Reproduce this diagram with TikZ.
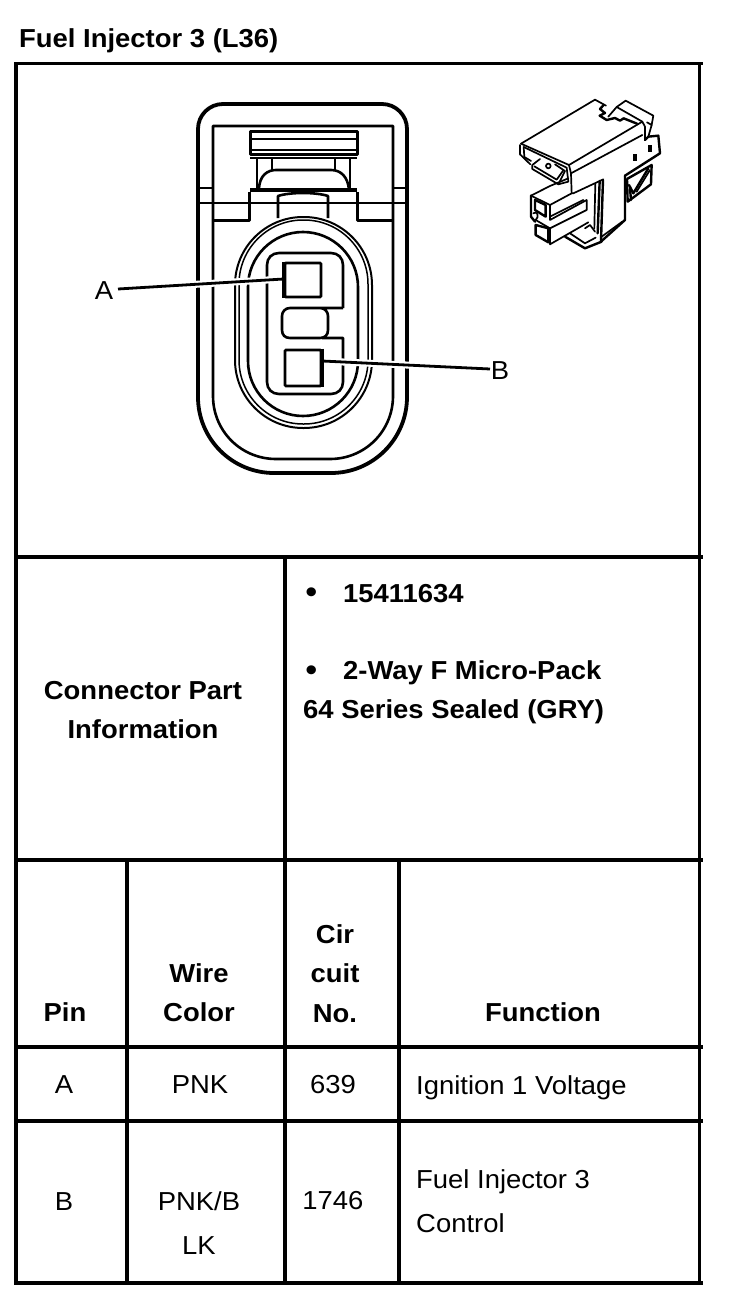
\documentclass[tikz,border=0pt]{standalone}
\usepackage{fontspec}
\setmainfont[FakeStretch=1.055]{Liberation Sans}
\usetikzlibrary{calc}
\newcommand{\bt}{\fontsize{26}{39.5}\selectfont\bfseries}
\newcommand{\rt}{\fontsize{26}{44}\selectfont}
% left, right, top, bottom, top radius, bottom radius
\newcommand{\ushape}[6]{(#1,{#3+#5}) .. controls (#1,{#3+.448*#5}) and ({#1+.448*#5},#3) .. ({#1+#5},#3) -- ({#2-#5},#3) .. controls ({#2-.448*#5},#3) and (#2,{#3+.448*#5}) .. (#2,{#3+#5}) -- (#2,{#4-#6}) .. controls (#2,{#4-.448*#6}) and ({#2-.448*#6},#4) .. ({#2-#6},#4) -- ({#1+#6},#4) .. controls ({#1+.448*#6},#4) and (#1,{#4-.448*#6}) .. (#1,{#4-#6}) -- cycle}
\tikzset{
  rule/.style={line width=3.2pt,line cap=butt},
  thick rule/.style={line width=4pt},
  cout/.style={line width=3.8pt,line join=round},
  cmid/.style={line width=2.6pt,line join=round},
  skn/.style={line width=1.7pt,line join=round,line cap=round},
  skt/.style={line width=2.4pt,line join=round,line cap=round},
  bold label/.style={font=\bt,align=center,inner sep=0pt,anchor=center},
  plain label/.style={font=\rt,align=center,inner sep=0pt,anchor=center},
  leader/.style={line width=2.8pt,preaction={draw=white,line width=7pt}},
}
\begin{document}
\begin{tikzpicture}[x=1pt,y=-1pt]
\useasboundingbox (0,0) rectangle (736,1308);
% --- table rules
\draw[rule,line width=3pt] (14,64) -- (703,64);
\draw[rule,line width=3.4pt] (16,63) -- (16,1285);
\draw[rule,line width=3pt] (699.5,63) -- (699.5,1285);
\draw[rule] (14,557) -- (703,557);
\draw[rule] (14,860) -- (703,860);
\draw[thick rule] (14,1047) -- (703,1047);
\draw[rule] (14,1121) -- (703,1121);
\draw[thick rule] (14,1283) -- (703,1283);
\draw[rule] (285,557) -- (285,1285);
\draw[rule] (127,860) -- (127,1285);
\draw[rule] (399,860) -- (399,1285);
% --- title and cell text
\node[bold label,anchor=west] (title) at (19,40.5) {Fuel Injector 3 (L36)};
\node[bold label] (cpi) at (143,710) {Connector Part\\Information};
\node[bold label,anchor=west] (b1) at (305.5,595) {\fontsize{31}{31}\selectfont •};
\node[bold label,anchor=west] (p1) at (343,594) {15411634};
\node[bold label,anchor=west] (b2) at (305.5,673.5) {\fontsize{31}{31}\selectfont •};
\node[bold label,anchor=west] (p2) at (343,672.5) {2-Way F Micro-Pack};
\node[bold label,anchor=west] (p3) at (303,712) {64 Series Sealed (GRY)};
\node[bold label] (hpin) at (65,1012) {Pin};
\node[bold label] (hwire) at (199,992.5) {Wire\\Color};
\node[bold label] (hcir) at (335,973.5) {Cir\\cuit\\No.};
\node[bold label] (hfun) at (543,1012) {Function};
\node[plain label] (ra) at (64,1085) {A};
\node[plain label] (rpnk) at (200,1085) {PNK};
\node[plain label] (r639) at (333,1085) {639};
\node[plain label,anchor=west] (rign) at (416,1087.5) {Ignition 1 Voltage};
\node[plain label] (rb) at (64,1202) {B};
\node[plain label] (rpb) at (199,1223) {PNK/B\\LK};
\node[plain label] (r1746) at (333,1201) {1746};
\node[plain label,align=left,anchor=west] (rfic) at (416,1201) {Fuel Injector 3\\Control};
% --- connector face: body
\draw[cout] \ushape{198}{407}{104}{473}{25}{76};
\draw[cmid] (213,396) -- (213,126) -- (393,126) -- (393,396) .. controls (393,431) and (365,459) .. (330,459) -- (276,459) .. controls (241,459) and (213,431) .. (213,396);
\draw[cmid] (198,188) -- (213,188) (393,188) -- (407,188);
\draw[cmid] (198,203) -- (248,203) (358,203) -- (407,203);
\draw[cmid,line width=3pt] (213,220) -- (249,220) -- (249,192) (393,220) -- (357,220) -- (357,192);
% latch
\draw[cmid,line width=3pt] (250,132) -- (357,132) -- (357,155) -- (250,155) -- cycle;
\draw[cmid] (250,139) -- (357,139) (250,150) -- (357,150);
\draw[cmid] (250,158) -- (357,158);
\draw[cmid] (257,158) -- (257,190) (350,158) -- (350,190);
\draw[cmid] (272,158) -- (272,170) (335,158) -- (335,170);
\draw[cmid] (259,190) .. controls (259,175) and (268,170) .. (276,170) -- (331,170) .. controls (341,170) and (348,177) .. (349,190);
\draw[cmid,line width=3.4pt] (250,190) -- (357,190);
\draw[cmid] (278,218) -- (278,196) .. controls (290,192) and (316,192) .. (328,196) -- (328,218);
\draw[cmid] (248,203) -- (358,203);
% seal
\draw[line width=2pt] \ushape{235}{372}{217}{428}{68}{68};
\draw[line width=1.5pt] \ushape{239}{368}{220}{424}{64}{64};
\draw[cmid] \ushape{248}{358}{232}{416}{55}{55};
% cavity
\draw[cmid] (343,308) -- (343,265) .. controls (343,258) and (338,253) .. (331,253) -- (279,253) .. controls (272,253) and (267,258) .. (267,265) -- (267,382) .. controls (267,389) and (272,394) .. (279,394) -- (331,394) .. controls (338,394) and (343,389) .. (343,382) -- (343,338) -- (322,338);
\draw[cmid] (343,308) -- (290,308) .. controls (285,308) and (282,312) .. (282,316) -- (282,330) .. controls (282,335) and (285,338) .. (290,338) -- (320,338) .. controls (325,338) and (328,335) .. (328,330) -- (328,316) .. controls (328,312) and (325,308) .. (320,308);
\node[draw,line width=2.6pt,minimum width=36pt,minimum height=34pt,inner sep=0pt,rounded corners=1pt] (pinA) at (303,280) {};
\node[draw,line width=2.6pt,minimum width=36pt,minimum height=36pt,inner sep=0pt,rounded corners=1pt] (pinB) at (303,368) {};
\node[plain label] (labA) at (104,291) {A};
\node[plain label] (labB) at (500,371) {B};
\coordinate (la) at (118,289);
\coordinate (lb) at (490,369);
\draw[leader] (la) -- (pinA.west |- 0,279);
\draw[leader] (pinB.east |- 0,361) -- (lb);
\draw[line width=2.6pt] (pinA.north west) -- (pinA.south west);
\draw[line width=2.6pt] (pinB.north east) -- (pinB.south east);
% --- small perspective sketch
\begin{scope}[shift={(505,85)},x=0.3333pt,y=-0.3333pt]
\draw[skn] (48,176) -- (270,44) -- (303,62);
\draw[skn] (48,176) -- (192,240) -- (412,110);
\draw[skn] (45,180) -- (45,208) -- (76,238);
\draw[skn] (56,186) -- (58,216) -- (78,228);
\draw[skn] (56,186) -- (185,248) -- (190,290) -- (160,298);
\draw[skn] (192,240) -- (198,265) -- (200,325);
\draw[skn] (198,265) -- (412,150);
\draw[skn] (105,222) -- (82,240) -- (82,252) -- (160,298) -- (180,258) -- (150,238);
\draw[skn] (88,244) -- (155,284) -- (175,256);
\draw[skn] (130,243) circle[radius=7];
\draw[skt] (296,60) -- (285,72) -- (300,84) -- (284,92) -- (305,105) -- (330,99) -- (345,107) -- (356,100) -- (396,116);
\draw[skn] (310,95) -- (335,66) -- (362,47) -- (445,92) -- (440,120) -- (426,112);
\draw[skn] (335,66) -- (412,110) -- (420,125) -- (420,165);
\draw[skn] (440,120) -- (430,155);
\draw[skt] (420,165) -- (430,155) -- (460,152) -- (465,205) -- (360,272);
\fill (385,208) rectangle (396,228);
\fill (428,180) rectangle (440,200);
\draw[skt] (360,272) -- (360,405) -- (290,468);
\draw[skn] (352,410) -- (290,455);
\draw[skn] (200,325) -- (205,325) -- (295,283);
\draw[skt] (294,285) -- (288,468);
\draw[skt] (284,288) -- (278,445);
\draw[skn] (271,295) -- (268,430);
\draw[skt] (366,282) -- (368,350) -- (438,298) -- (440,240) -- (366,282);
\draw[skt] (372,300) -- (385,325) -- (430,250);
\draw[skn] (395,320) -- (435,255);
\draw[skt] (375,310) -- (378,345);
% lower plug
\draw[skt] (78,332) -- (78,395) -- (90,410);
\draw[skn] (78,332) -- (135,303) -- (190,280);
\draw[skn] (78,332) -- (135,360) -- (200,325);
\draw[skt] (90,345) -- (122,360) -- (122,395) -- (90,375) -- cycle;
\draw[skn] (135,360) -- (135,405) -- (245,345) -- (245,375) -- (135,430);
\draw[skn] (135,395) -- (235,345);
\draw[skn] (85,385) .. controls (95,375) and (105,395) .. (92,405) -- (135,430);
\draw[skt] (92,420) -- (92,450) -- (130,472) -- (130,430) -- cycle;
\draw[skn] (135,430) -- (135,478) -- (250,412);
\draw[skt] (180,455) -- (240,490) -- (290,470);
\draw[skn] (195,445) -- (240,475) -- (272,458);
\draw[skn] (240,430) -- (255,420) -- (270,440);
\end{scope}
\end{tikzpicture}
\end{document}
